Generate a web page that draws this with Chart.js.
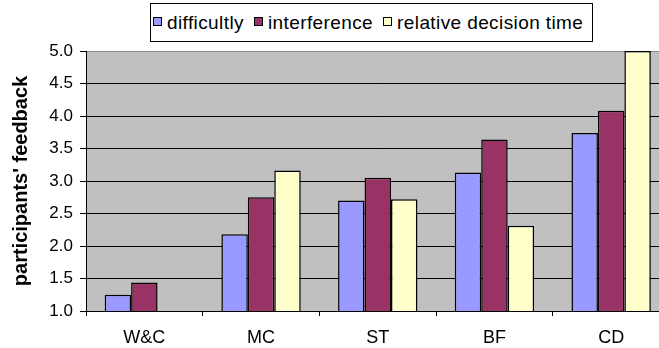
<!DOCTYPE html>
<html>
<head>
  <title>Participants' feedback</title>
  <script src="https://cdn.jsdelivr.net/npm/chart.js"></script>
  <style>
    html, body { margin: 0; padding: 0; overflow: hidden; background: #fff; }
    #wrap { position: relative; width: 672px; height: 348px; }
    #legend {
      position: absolute; left: 150px; top: 3px; height: 37px;
      border: 1px solid #000; background: #fff; box-sizing: content-box;
      display: flex; align-items: center; justify-content: flex-start; gap: 10px;
      padding-left: 2px; width: 439px;
      font: 19px "Liberation Sans", Arial, sans-serif; letter-spacing: 0.4px; color: #000;
    }
    .item { display: flex; align-items: center; }
    .sw { width: 7px; height: 7px; border: 1px solid #000; margin-right: 5px; margin-top: -3px; }
  </style>
</head>
<body>
  <div id="wrap">
    <canvas id="chart" width="672" height="348"></canvas>
    <div id="legend"></div>
  </div>

  <script>
    // Data
    const categories = ['W&C', 'MC', 'ST', 'BF', 'CD'];
    const seriesNames = ['difficultly', 'interference', 'relative decision time'];
    const difficultly = [1.25, 2.18, 2.70, 3.13, 3.74];
    const interference = [1.44, 2.75, 3.05, 3.64, 4.08];
    const decisionTime = [null, 3.16, 2.72, 2.31, 5.0];
    const seriesColors = ['#9999FF', '#993366', '#FFFFCC'];

    const yMin = 1.0, yMax = 5.0, yStep = 0.5;

    // Build the html legend from the series
    const legend = document.getElementById('legend');
    seriesNames.forEach((name, i) => {
      const item = document.createElement('div');
      item.className = 'item';
      item.innerHTML = `<span class="sw" style="background:${seriesColors[i]}"></span><span>${name}</span>`;
      legend.appendChild(item);
    });

    // Gray plot area like the old Excel charts
    const plotBackground = {
      id: 'plotBackground',
      beforeDraw(chart) {
        const { ctx, chartArea: a } = chart;
        ctx.save();
        ctx.fillStyle = '#C0C0C0';
        ctx.fillRect(a.left, a.top, a.right - a.left, a.bottom - a.top);
        ctx.restore();
      }
    };

    const seriesValues = [difficultly, interference, decisionTime];

    new Chart(document.getElementById('chart'), {
      type: 'bar',
      data: {
        labels: categories,
        datasets: seriesValues.map((values, i) => ({
          label: seriesNames[i],
          data: values,
          backgroundColor: seriesColors[i],
          borderColor: '#000',
          borderWidth: 1.5,
          borderSkipped: false,
          categoryPercentage: 0.68,
          barPercentage: 1.0
        }))
      },
      options: {
        responsive: false,
        animation: false,
        layout: { padding: { top: 51, right: 2.5, bottom: 0, left: 0 } },
        plugins: {
          legend: { display: false },
          tooltip: { enabled: false }
        },
        scales: {
          x: {
            offset: true,
            grid: { drawOnChartArea: false, drawTicks: true, tickLength: 5, tickColor: '#000' },
            border: { color: '#000', width: 1 },
            ticks: { color: '#000', padding: 11, font: { family: 'Liberation Sans, Arial', size: 18 } },
            afterFit: s => { s.height = 37; }
          },
          y: {
            min: yMin,
            max: yMax,
            grid: {
              color: c => (c.tick && c.tick.value === yMax ? '#8a8a8a' : '#000'),
              tickColor: '#000',
              tickLength: 6,
              lineWidth: 1
            },
            border: { color: '#000', width: 1 },
            ticks: {
              stepSize: yStep,
              color: '#000',
              padding: 7,
              font: { family: 'Liberation Sans, Arial', size: 17 },
              callback: v => v.toFixed(1)
            },
            title: {
              display: true,
              text: "participants' feedback",
              color: '#000',
              padding: { top: 9, bottom: 0 },
              font: { family: 'Liberation Sans, Arial', size: 20, weight: 'bold' }
            },
            afterFit: s => { s.width = 86; }
          }
        }
      },
      plugins: [plotBackground]
    });
  </script>
</body>
</html>
